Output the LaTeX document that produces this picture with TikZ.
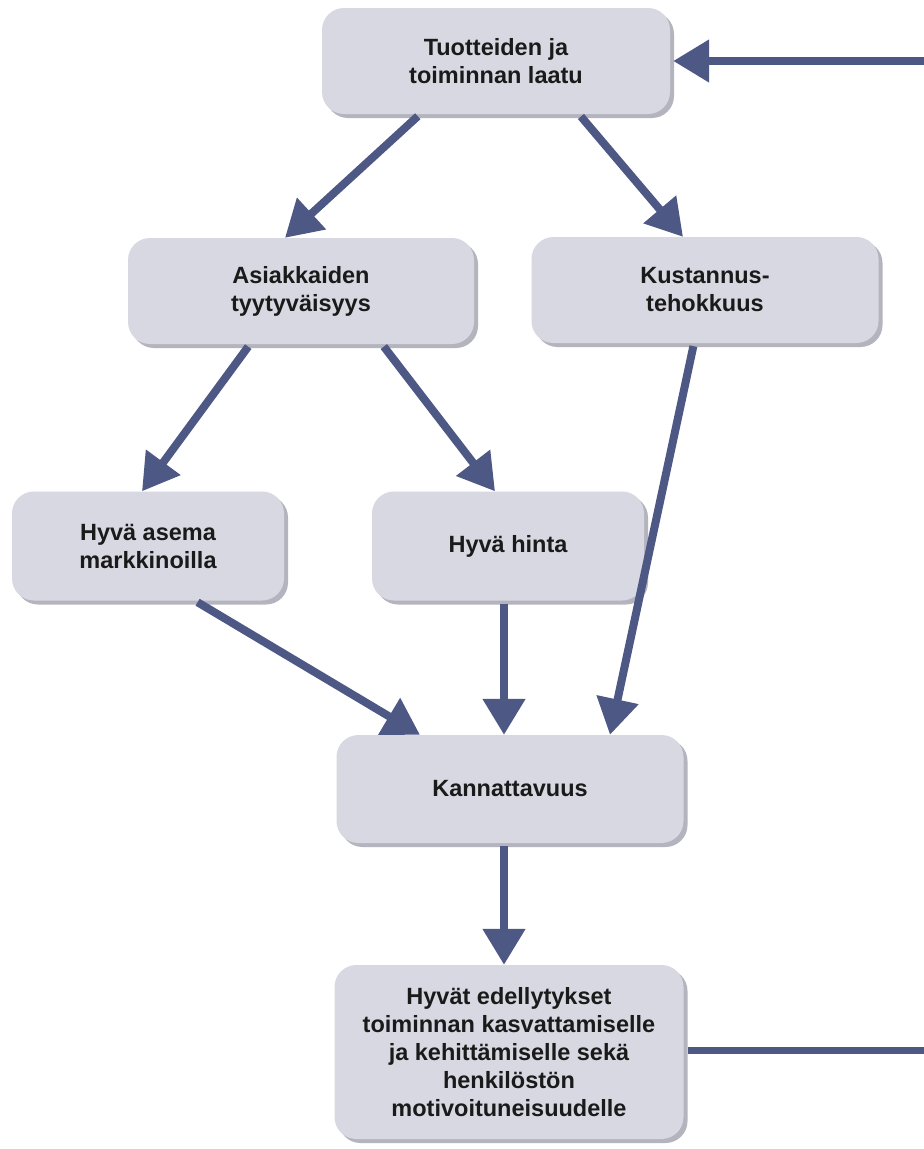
\documentclass[tikz,border=0pt]{standalone}
\usepackage{fontspec}
\setmainfont{Liberation Sans}
\usetikzlibrary{arrows.meta,shadows}
\definecolor{boxfill}{HTML}{D8D8E2}
\definecolor{boxshadow}{HTML}{B4B4BE}
\definecolor{arrowcol}{HTML}{4E5885}
\definecolor{textcol}{HTML}{1A1A1A}
\tikzset{
  box/.style={rounded corners=22pt, fill=boxfill, draw=none, align=center,
    inner sep=0pt, text=textcol,
    font=\bfseries\fontsize{23.5pt}{28pt}\selectfont,
    drop shadow={fill=boxshadow, opacity=1, shadow xshift=4pt, shadow yshift=-4pt}},
  conn/.style={draw=arrowcol, line width=8pt,
    -{Triangle[length=36pt,width=41pt]}, shorten <=3pt},
  plain/.style={draw=arrowcol, line width=7pt}
}
\begin{document}
\begin{tikzpicture}[x=1pt,y=-1pt]
\useasboundingbox (0,0) rectangle (924,1149);
\fill[white] (0,0) rectangle (924,1149);

\node[box, minimum width=348pt, minimum height=106pt] (top) at (496,61) {Tuotteiden ja\\toiminnan laatu};
\node[box, minimum width=346pt, minimum height=106pt] (asi) at (301,291) {Asiakkaiden\\tyytyväisyys};
\node[box, minimum width=347pt, minimum height=106pt] (kus) at (705,290) {Kustannus-\\tehokkuus};
\node[box, minimum width=272pt, minimum height=109pt] (hyva) at (148,546) {Hyvä asema\\markkinoilla};
\node[box, minimum width=272pt, minimum height=109pt] (hinta) at (508,546) {Hyvä hinta};
\node[box, minimum width=347pt, minimum height=108pt] (kan) at (510,789) {Kannattavuus};
\node[box, minimum width=349pt, minimum height=174pt] (bot) at (509,1052) {Hyvät edellytykset\\toiminnan kasvattamiselle\\ja kehittämiselle sekä\\henkilöstön\\motivoituneisuudelle};

\coordinate (rb) at (924,1050);
\coordinate (rt) at (924,61);

\draw[conn] ([xshift=-76pt]top.south) -- ([xshift=-16pt]asi.north);
\draw[conn] ([xshift=83pt]top.south) -- ([xshift=-22pt]kus.north);
\draw[conn] ([xshift=-51pt]asi.south) -- ([xshift=-6pt]hyva.north);
\draw[conn] ([xshift=81pt]asi.south) -- ([xshift=-13pt]hinta.north);
\draw[conn] ([xshift=-11pt]kus.south) -- ([xshift=100pt]kan.north);
\draw[conn] ([xshift=47pt]hyva.south) -- ([xshift=-90pt]kan.north);
\draw[conn] ([xshift=-4pt]hinta.south) -- ([xshift=-6pt]kan.north);
\draw[conn] ([xshift=-6pt]kan.south) -- ([xshift=-5pt]bot.north);
\draw[plain] ([xshift=4pt,yshift=2pt]bot.east) -- (rb);
\draw[conn, shorten <=0pt] (rt) -- ([xshift=3pt]top.east);
\end{tikzpicture}
\end{document}
